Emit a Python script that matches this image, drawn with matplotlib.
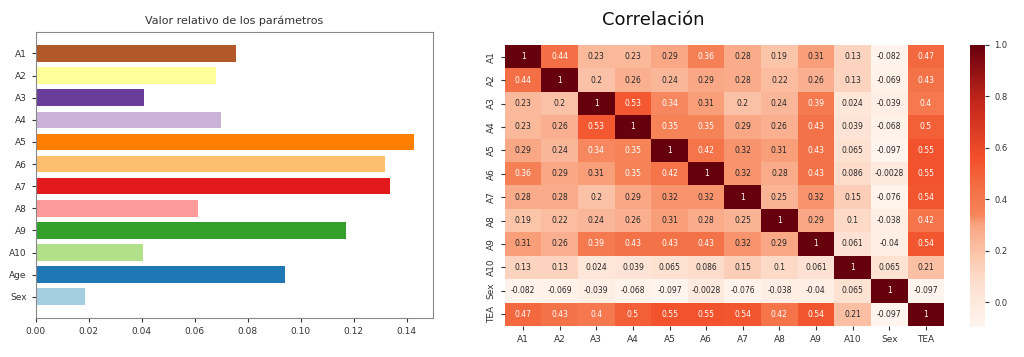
import matplotlib
matplotlib.use("Agg")
import matplotlib.pyplot as plt
import numpy as np
import seaborn as sns
from matplotlib.colors import LinearSegmentedColormap

# ---- data: feature importance ----
features = ["A1", "A2", "A3", "A4", "A5", "A6", "A7", "A8", "A9", "A10", "Age", "Sex"]
importance = [0.0757, 0.068, 0.041, 0.070, 0.1427, 0.132, 0.1336, 0.0613, 0.117, 0.0405, 0.094, 0.0185]
bar_colors = ["#b15928", "#ffff99", "#6a3d9a", "#cab2d6", "#ff7f00", "#fdbf6f",
              "#e31a1c", "#fb9a99", "#33a02c", "#b2df8a", "#1f78b4", "#a6cee3"]

# ---- data: correlation matrix ----
corr_labels = ["A1", "A2", "A3", "A4", "A5", "A6", "A7", "A8", "A9", "A10", "Sex", "TEA"]
corr = [
    [1, 0.44, 0.23, 0.23, 0.29, 0.36, 0.28, 0.19, 0.31, 0.13, -0.082, 0.47],
    [0.44, 1, 0.2, 0.26, 0.24, 0.29, 0.28, 0.22, 0.26, 0.13, -0.069, 0.43],
    [0.23, 0.2, 1, 0.53, 0.34, 0.31, 0.2, 0.24, 0.39, 0.024, -0.039, 0.4],
    [0.23, 0.26, 0.53, 1, 0.35, 0.35, 0.29, 0.26, 0.43, 0.039, -0.068, 0.5],
    [0.29, 0.24, 0.34, 0.35, 1, 0.42, 0.32, 0.31, 0.43, 0.065, -0.097, 0.55],
    [0.36, 0.29, 0.31, 0.35, 0.42, 1, 0.32, 0.28, 0.43, 0.086, -0.0028, 0.55],
    [0.28, 0.28, 0.2, 0.29, 0.32, 0.32, 1, 0.25, 0.32, 0.15, -0.076, 0.54],
    [0.19, 0.22, 0.24, 0.26, 0.31, 0.28, 0.25, 1, 0.29, 0.1, -0.038, 0.42],
    [0.31, 0.26, 0.39, 0.43, 0.43, 0.43, 0.32, 0.29, 1, 0.061, -0.04, 0.54],
    [0.13, 0.13, 0.024, 0.039, 0.065, 0.086, 0.15, 0.1, 0.061, 1, 0.065, 0.21],
    [-0.082, -0.069, -0.039, -0.068, -0.097, -0.0028, -0.076, -0.038, -0.04, 0.065, 1, -0.097],
    [0.47, 0.43, 0.4, 0.5, 0.55, 0.55, 0.54, 0.42, 0.54, 0.21, -0.097, 1],
]

fig = plt.figure(figsize=(10.24, 3.57), dpi=100)

# ---- left: bar chart ----
ax1 = fig.add_axes([0.035, 0.109, 0.388, 0.801])
y = np.arange(len(features))
ax1.barh(y, importance, height=0.75, color=bar_colors)
ax1.set_yticks(y)
ax1.set_yticklabels(features)
ax1.invert_yaxis()
ax1.set_xlim(0, 0.15)
ax1.set_xticks(np.arange(0, 0.141, 0.02))
ax1.set_xticklabels([f"{v:.2f}" for v in np.arange(0, 0.141, 0.02)])
ax1.tick_params(labelsize=6.5, colors="#333333", length=3)
for s in ax1.spines.values():
    s.set_color("#888888")
ax1.set_title("Valor relativo de los parámetros", fontsize=8, color="#333333", pad=6)

# ---- right: heatmap ----
cmap = LinearSegmentedColormap.from_list(
    "corr", [(0.0, "#fff5ee"), (0.15, "#fde0d0"), (0.25, "#fcc8ae"), (0.36, "#f9a582"),
             (0.40, "#f6845a"), (0.5, "#f46d43"), (0.6, "#f2502a"), (0.8, "#c3261b"),
             (1.0, "#67000d")])
ax2 = fig.add_axes([0.493, 0.087, 0.429, 0.787])
cax = fig.add_axes([0.947, 0.084, 0.015, 0.79])
sns.heatmap(np.array(corr), ax=ax2, cbar_ax=cax, cmap=cmap, annot=True,
            annot_kws={"fontsize": 5.5}, xticklabels=corr_labels, yticklabels=corr_labels)
ax2.tick_params(labelsize=6.5, colors="#333333", length=3)
ax2.set_yticklabels(corr_labels, rotation=90, va="center")
ax2.set_xticklabels(corr_labels, rotation=0)
cax.tick_params(labelsize=6, colors="#333333", length=3)
cax.set_yticks([0.0, 0.2, 0.4, 0.6, 0.8, 1.0])
cax.set_yticklabels(["0.0", "0.2", "0.4", "0.6", "0.8", "1.0"])
fig.text(0.638, 0.945, "Correlación", fontsize=13, ha="center", va="center", color="#111111")

fig.savefig("out.png", dpi=100)
